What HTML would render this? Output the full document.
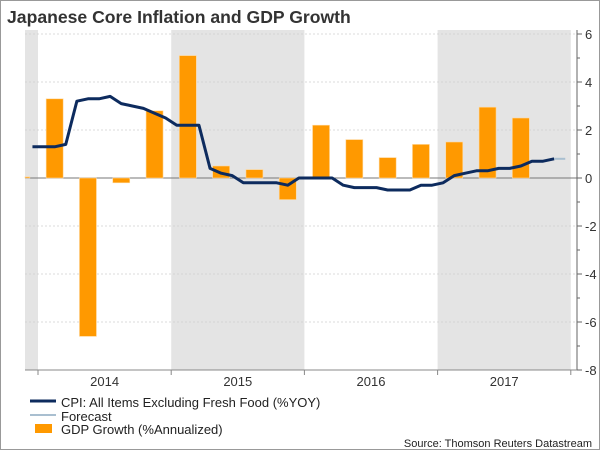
<!DOCTYPE html>
<html><head><meta charset="utf-8"><style>
body{margin:0;background:#fff;font-family:"Liberation Sans",Arial,sans-serif}
#wrap{position:relative;width:600px;height:450px;overflow:hidden}
</style></head><body>
<div id="wrap">
<svg id="chart" width="600" height="450" xmlns="http://www.w3.org/2000/svg">
<rect x="0.5" y="0.5" width="599" height="449" fill="#fff" stroke="#999"/>
<text x="7" y="23" font-size="17.6" font-weight="bold" fill="#333">Japanese Core Inflation and GDP Growth</text>
<g id="bands"></g><g id="grid"></g><g id="bars"></g><g id="lines"></g><g id="axes"></g>
<g>
<line x1="30" y1="401" x2="56" y2="401" stroke="#0d2b5e" stroke-width="3"/>
<text x="61" y="407" font-size="13" fill="#222">CPI: All Items Excluding Fresh Food (%YOY)</text>
<line x1="30" y1="415" x2="56" y2="415" stroke="#a9bfd0" stroke-width="2"/>
<text x="61" y="421" font-size="13" fill="#222">Forecast</text>
<rect x="35" y="424" width="17" height="9" fill="#ff9900"/>
<text x="61" y="434" font-size="13" fill="#222">GDP Growth (%Annualized)</text>
</g>
<text x="592" y="447" font-size="11" fill="#222" text-anchor="end">Source: Thomson Reuters Datastream</text>
</svg></div>
<script>
const years=["2014","2015","2016","2017"];
const yTicks=[6,4,2,0,-2,-4,-6,-8];
const gdp=[0.05,3.3,-6.6,-0.2,2.8,5.1,0.5,0.35,-0.9,2.2,1.6,0.85,1.4,1.5,2.95,2.5];
const cpi=[1.3,1.3,1.3,1.4,3.2,3.3,3.3,3.4,3.1,3.0,2.9,2.7,2.5,2.2,2.2,2.2,0.4,0.2,0.1,-0.2,-0.2,-0.2,-0.2,-0.3,0.0,0.0,0.0,0.0,-0.3,-0.4,-0.4,-0.4,-0.5,-0.5,-0.5,-0.3,-0.3,-0.2,0.1,0.2,0.3,0.3,0.4,0.4,0.5,0.7,0.7,0.8];
const forecast=[0.8,0.8];
const NS="http://www.w3.org/2000/svg";
const L=25,R=577,T=34,B=370,yMin=-8,yMax=6,x0=38,yearW=133.2;
const y=v=>T+(yMax-v)/(yMax-yMin)*(B-T);
const xMonth=i=>x0+yearW/12*(i-0.5);
const xQ=i=>x0+yearW/4*(i-0.5);
function el(t,a,p){const e=document.createElementNS(NS,t);for(const k in a)e.setAttribute(k,a[k]);document.getElementById(p).appendChild(e);return e;}
let b=el("rect",{x:L,y:T-4,width:x0-L,height:B-T+4,fill:"#e4e4e4"},"bands");


[1,3].forEach(k=>{const r=el("rect",{x:x0+k*yearW,y:T-4,width:Math.min(yearW,R-(x0+k*yearW)),height:B-T+4,fill:"#e4e4e4"},"bands");

});
yTicks.forEach(v=>{
 if(v!==0&&v!==-8){const g=el("line",{x1:L,x2:R,y1:y(v),y2:y(v),stroke:"#d0d0d0","stroke-dasharray":"2,2","stroke-width":0.7},"grid");
 
 }
 const t=el("text",{x:R+8,y:y(v)+5,"font-size":13,fill:"#333"},"axes");t.textContent=v;
 
 
 const tk=el("line",{x1:R,x2:R+5,y1:y(v),y2:y(v),stroke:"#666"},"axes");
 
 
});
for(let v=yMin+1;v<yMax;v+=2){const tk=el("line",{x1:R,x2:R+3,y1:y(v),y2:y(v),stroke:"#666"},"axes");
 
 }
let ax=el("line",{x1:R,x2:R,y1:T-4,y2:B,stroke:"#666"},"axes");


let zl=el("line",{x1:L,x2:R,y1:y(0),y2:y(0),stroke:"#777","stroke-width":1},"grid");


let xa=el("line",{x1:L,x2:R,y1:B,y2:B,stroke:"#888"},"axes");


for(let k=0;k<=4;k++){const tk=el("line",{x1:x0+k*yearW,x2:x0+k*yearW,y1:B,y2:B+5,stroke:"#888"},"axes");
 
 }
years.forEach((yr,k)=>{const t=el("text",{x:x0+(k+0.5)*yearW,y:386,"font-size":13,fill:"#333","text-anchor":"middle"},"axes");t.textContent=yr;
 
 });
const bw=17;
gdp.forEach((v,i)=>{let x=xQ(i)-bw/2,w=bw;if(x<L){w-=L-x;x=L;}
 const r=el("rect",{x:x,y:Math.min(y(v),y(0)),width:w,height:Math.abs(y(v)-y(0)),fill:"#ff9900",stroke:"#ffd9a0","stroke-width":0.6},"bars");
 
 });
const n=cpi.length;
let p=el("polyline",{points:cpi.map((v,i)=>xMonth(i)+","+y(v)).join(" "),fill:"none",stroke:"#0d2b5e","stroke-width":3,"stroke-linejoin":"round"},"lines");


let f=el("polyline",{points:forecast.map((v,i)=>xMonth(n-1+i)+","+y(v)).join(" "),fill:"none",stroke:"#a9bfd0","stroke-width":2},"lines");


</script>
</body></html>
